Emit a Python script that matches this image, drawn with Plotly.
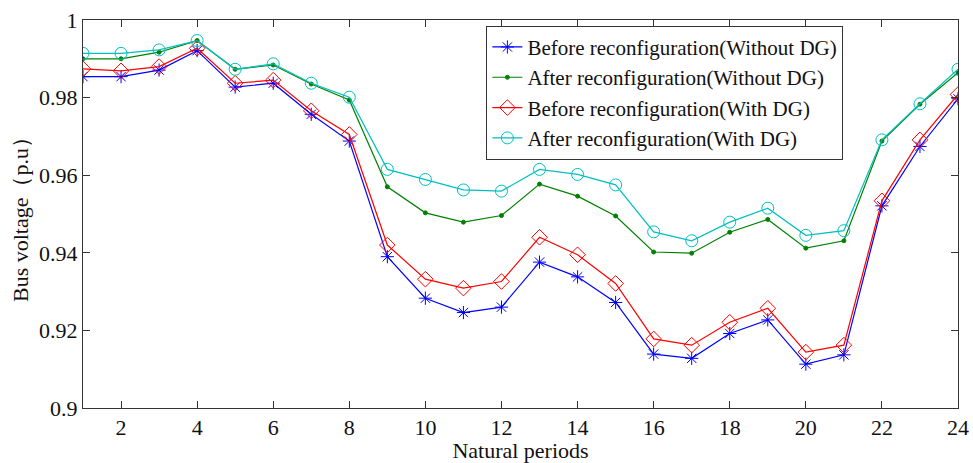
import plotly.graph_objects as go

periods = list(range(1, 25))
before_no_dg = [0.9854, 0.9854, 0.9871, 0.9921, 0.9827, 0.9837, 0.9757, 0.9688,
                0.9390, 0.9283, 0.9246, 0.9260, 0.9376, 0.9338, 0.9272, 0.9139,
                0.9128, 0.9192, 0.9227, 0.9113, 0.9137, 0.9521, 0.9674, 0.9797]
after_no_dg = [0.9900, 0.9900, 0.9917, 0.9947, 0.9873, 0.9884, 0.9835, 0.9794,
               0.9570, 0.9503, 0.9479, 0.9496, 0.9577, 0.9546, 0.9495, 0.9402,
               0.9399, 0.9453, 0.9486, 0.9412, 0.9431, 0.9688, 0.9783, 0.9864]
before_dg = [0.9874, 0.9869, 0.9880, 0.9927, 0.9837, 0.9845, 0.9766, 0.9705,
             0.9420, 0.9332, 0.9309, 0.9326, 0.9440, 0.9395, 0.9321, 0.9178,
             0.9162, 0.9221, 0.9257, 0.9144, 0.9162, 0.9534, 0.9691, 0.9808]
after_dg = [0.9914, 0.9914, 0.9923, 0.9947, 0.9873, 0.9887, 0.9837, 0.9801,
            0.9615, 0.9589, 0.9562, 0.9559, 0.9615, 0.9602, 0.9575, 0.9454,
            0.9431, 0.9479, 0.9515, 0.9445, 0.9457, 0.9691, 0.9784, 0.9873]

names = ["Before reconfiguration(Without DG)", "After reconfiguration(Without DG)",
         "Before reconfiguration(With DG)", "After reconfiguration(With DG)"]
x_ticks = list(range(2, 25, 2))
y_ticks = [0.9, 0.92, 0.94, 0.96, 0.98, 1.0]
y_tick_labels = ["0.9", "0.92", "0.94", "0.96", "0.98", "1"]

styles = [
    dict(color="rgb(0,0,255)", symbol="asterisk-open", size=11),
    dict(color="rgb(0,128,0)", symbol="circle", size=4),
    dict(color="rgb(255,0,0)", symbol="diamond-open", size=12),
    dict(color="rgb(0,191,191)", symbol="circle-open", size=12),
]
series = [before_no_dg, after_no_dg, before_dg, after_dg]

fig = go.Figure()
for name, vals, st in zip(names, series, styles):
    fig.add_trace(go.Scatter(
        x=periods, y=vals, name=name, mode="lines+markers",
        line=dict(color=st["color"], width=1.2),
        marker=dict(symbol=st["symbol"], size=st["size"], color=st["color"],
                    line=dict(color=st["color"], width=1)),
    ))

font = dict(family="Liberation Serif, Times New Roman, serif", size=22, color="#111")
legend_font = dict(family="Liberation Serif, Times New Roman, serif", size=21, color="#111")
axis_common = dict(showgrid=False, zeroline=False, showline=True, linecolor="#333",
                   linewidth=1, mirror="ticks", ticks="inside", ticklen=7,
                   tickcolor="#333", tickfont=font, automargin=False)

fig.update_layout(
    width=973, height=463,
    margin=dict(l=83, r=15, t=20, b=55),
    plot_bgcolor="white", paper_bgcolor="white",
    font=font,
    xaxis=dict(range=[1, 24], tickvals=x_ticks,
               title=dict(text="Natural periods", font=font, standoff=0),
               **axis_common),
    yaxis=dict(range=[0.9, 1.0], tickvals=y_ticks, ticktext=y_tick_labels,
               title=dict(text="Bus voltage（p.u）", font=font, standoff=4),
               **axis_common),
    legend=dict(x=0.461, y=0.985, xanchor="left", yanchor="top",
                bgcolor="white", bordercolor="#333", borderwidth=1,
                font=legend_font, tracegroupgap=0, itemwidth=30),
    showlegend=True,
)

fig.write_html("out.html")
